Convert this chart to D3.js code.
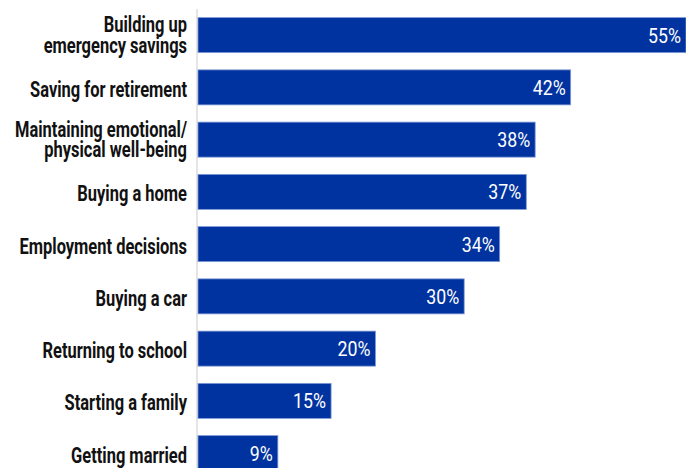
<!DOCTYPE html>
<html>
<head>
<meta charset="utf-8">
<script src="https://cdn.jsdelivr.net/npm/d3@7"></script>
<style>
  html, body { margin: 0; padding: 0; background: #fff; }
  svg { display: block; }
</style>
</head>
<body>
<div id="chart"></div>
<script>
// 类别（两行的标签拆开）
const categories = [
    ['Building up', 'emergency savings'],
    ['Saving for retirement'],
    ['Maintaining emotional/', 'physical well-being'],
    ['Buying a home'],
    ['Employment decisions'],
    ['Buying a car'],
    ['Returning to school'],
    ['Starting a family'],
    ['Getting married']
];
const values = [55, 42, 38, 37, 34, 30, 20, 15, 9];

const width = 686;
const height = 468;
const margin = { top: 9, right: 0, left: 198 };
const labelRight = 187;
const fontFamily = 'Roboto, "DejaVu Sans", sans-serif';

const svg = d3.select('#chart')
    .append('svg')
    .attr('width', width)
    .attr('height', height);

const x = d3.scaleLinear()
    .domain([0, 55])
    .range([margin.left, width - margin.right]);

const y = d3.scaleBand()
    .domain(d3.range(categories.length))
    .range([margin.top, margin.top + 52.25 * categories.length])
    .paddingInner(0.33)
    .paddingOuter(0.165);

// 没有窄体字，用水平缩放模拟压缩字体
function condenseFactor(text, size, weight, target) {
    const t = svg.append('text')
        .attr('font-family', fontFamily)
        .attr('font-size', size)
        .attr('font-weight', weight)
        .text(text);
    const w = t.node().getComputedTextLength();
    t.remove();
    return target / w;
}
const labelScale = condenseFactor('Saving for retirement', '22px', 'bold', 157);
const valueScale = condenseFactor('55%', '21px', 'normal', 33);

// 轴线
svg.append('line')
    .attr('x1', margin.left - 1)
    .attr('x2', margin.left - 1)
    .attr('y1', 9)
    .attr('y2', height)
    .attr('stroke', '#dcdcdc')
    .attr('stroke-width', 1.5);

// 条形
svg.selectAll('.bar')
    .data(values)
    .enter()
    .append('rect')
    .attr('class', 'bar')
    .attr('x', x(0))
    .attr('y', (d, i) => y(i))
    .attr('width', d => x(d) - x(0))
    .attr('height', y.bandwidth())
    .attr('fill', '#0033a0')
    .attr('stroke', '#7f9ad6')
    .attr('stroke-width', 0.8);

// 数值
svg.selectAll('.value')
    .data(values)
    .enter()
    .append('text')
    .attr('class', 'value')
    .attr('transform', (d, i) =>
        `translate(${x(d) - 5},${y(i) + y.bandwidth() / 2 + 7.5}) scale(${valueScale},1)`)
    .attr('text-anchor', 'end')
    .attr('fill', 'white')
    .attr('font-family', fontFamily)
    .attr('font-size', '21px')
    .attr('font-weight', 'normal')
    .text(d => d + '%');

// 类别标签
const labels = svg.selectAll('.label')
    .data(categories)
    .enter()
    .append('text')
    .attr('class', 'label')
    .attr('transform', `translate(${labelRight},0) scale(${labelScale},1)`)
    .attr('text-anchor', 'end')
    .attr('fill', '#111')
    .attr('font-family', fontFamily)
    .attr('font-size', '22px')
    .attr('font-weight', 'bold');

labels.each(function (lines, i) {
    const cy = y(i) + y.bandwidth() / 2;
    const ys = lines.length === 1 ? [cy + 9.5] : [cy - 3, cy + 17.5];
    d3.select(this).selectAll('tspan')
        .data(lines)
        .enter()
        .append('tspan')
        .attr('x', 0)
        .attr('y', (d, k) => ys[k])
        .text(d => d);
});
</script>
</body>
</html>
